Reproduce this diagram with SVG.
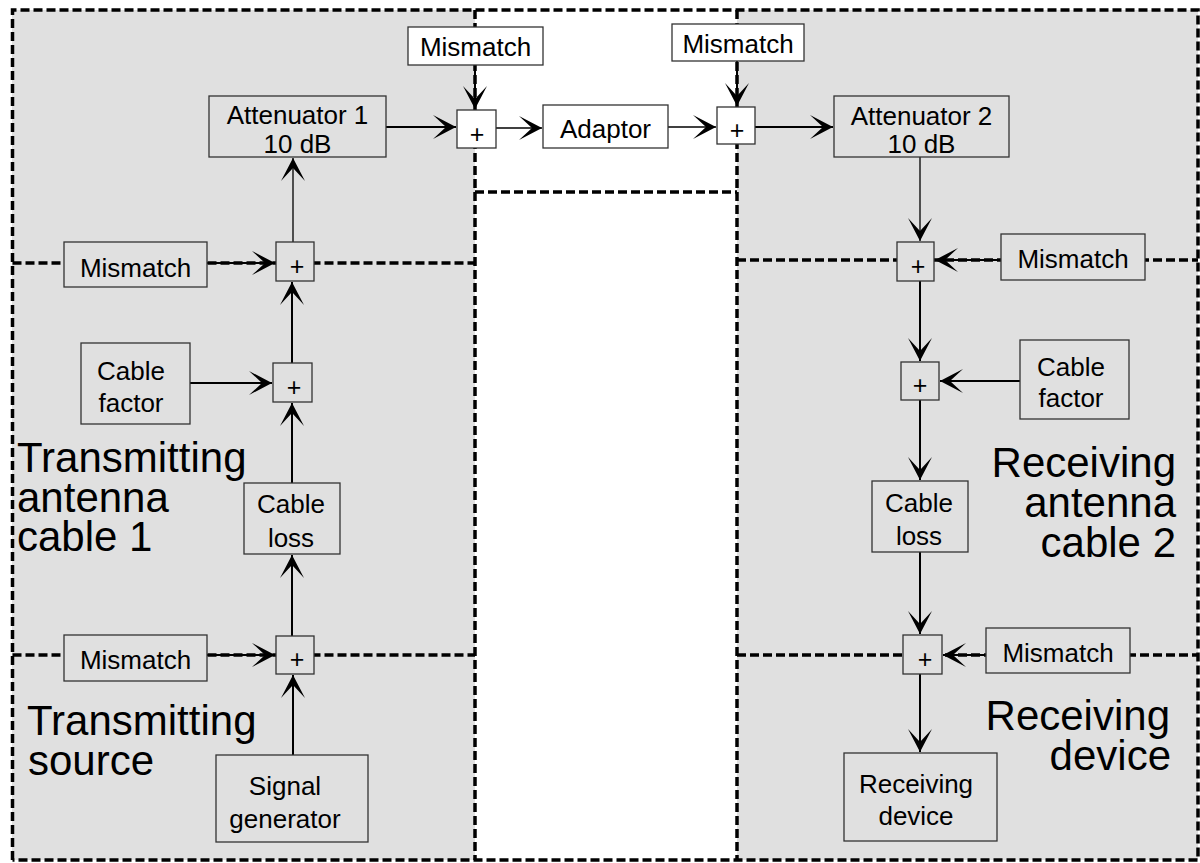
<svg xmlns="http://www.w3.org/2000/svg" width="1200" height="863" viewBox="0 0 1200 863">
<style>
text{font-family:"Liberation Sans",Arial,sans-serif;fill:#000}
.t{font-size:26px;text-anchor:middle}
.big{font-size:42px}
.end{text-anchor:end}
.plus{font-size:25px;text-anchor:middle}
.box{stroke:#333;stroke-width:1.3;fill:#e0e0e0}
.wbox{stroke:#333;stroke-width:1.3;fill:#fff}
.dash{stroke:#000;stroke-width:3.5;stroke-dasharray:9 4;fill:none}
.c{stroke:#000;stroke-width:2;fill:none;marker-end:url(#ah)}
.cthin{stroke:#000;stroke-width:1.3;fill:none;marker-end:url(#ah)}
</style>
<defs>
<marker id="ah" viewBox="-24 -13 26 26" refX="0" refY="0" markerWidth="26" markerHeight="26" markerUnits="userSpaceOnUse" orient="auto">
<path d="M0,0 L-23,-12 L-10,0 L-23,12 Z" fill="#000"/>
</marker>
</defs>
<rect width="1200" height="863" fill="#fff"/>
<g id="regions">
<rect x="12" y="10" width="463" height="850" fill="#e0e0e0"/>
<rect x="737" y="10" width="461" height="850" fill="#e0e0e0"/>
<path class="dash" d="M12.5,860 V10 H1198 V860 H12.5"/>
<path class="dash" d="M475,10 V860 M737,10 V860 M475,192 H737"/>
<path class="dash" d="M12.5,263 H475 M12.5,655 H475 M737,260 H1198 M737,655 H1198"/>
</g>
<g id="connectors">
<path class="c" d="M293,755 V675"/>
<path class="c" d="M207,655 H275"/>
<path class="c" d="M292,636 V555"/>
<path class="c" d="M292,483 V403"/>
<path class="c" d="M190,383 H272"/>
<path class="c" d="M292,363 V282"/>
<path class="c" d="M207,263 H275"/>
<path class="cthin" d="M293,242 V158"/>
<path class="c" d="M386,127 H456"/>
<path class="c" d="M475,65 V109"/>
<path class="cthin" d="M496,128 H542"/>
<path class="cthin" d="M668,127 H716"/>
<path class="c" d="M737,61 V106"/>
<path class="c" d="M755,127 H833"/>
<path class="cthin" d="M920,157 V241"/>
<path class="c" d="M1001,260 H935"/>
<path class="c" d="M920,281 V361"/>
<path class="c" d="M1020,381 H940"/>
<path class="c" d="M920,400 V480"/>
<path class="c" d="M920,552 V634"/>
<path class="c" d="M986,655 H943"/>
<path class="c" d="M920,674 V752"/>
</g>
<g id="label-tx-cable">
<text class="big" x="17" y="472">Transmitting</text>
<text class="big" x="17" y="512">antenna</text>
<text class="big" x="17" y="551">cable 1</text>
</g>
<g id="label-tx-source">
<text class="big" x="27" y="735">Transmitting</text>
<text class="big" x="28" y="775">source</text>
</g>
<g id="label-rx-cable">
<text class="big end" x="1176" y="477">Receiving</text>
<text class="big end" x="1176" y="517">antenna</text>
<text class="big end" x="1176" y="557">cable 2</text>
</g>
<g id="label-rx-device">
<text class="big end" x="1170" y="730">Receiving</text>
<text class="big end" x="1171" y="770">device</text>
</g>
<g id="signal-generator">
<rect class="box" x="216" y="755" width="152" height="87"/>
<text class="t" x="285" y="795">Signal</text>
<text class="t" x="285" y="828">generator</text>
</g>
<g id="mismatch-tx-low">
<rect class="box" x="64" y="635" width="143" height="46"/>
<text class="t" x="135.5" y="669">Mismatch</text>
</g>
<g id="sum-tx-low">
<rect class="box" x="276" y="636" width="38" height="38"/>
<text class="plus" x="297" y="668">+</text>
</g>
<g id="cable-loss-1">
<rect class="box" x="244" y="483" width="96" height="71"/>
<text class="t" x="291" y="513">Cable</text>
<text class="t" x="291" y="547">loss</text>
</g>
<g id="cable-factor-1">
<rect class="box" x="81" y="343" width="109" height="81"/>
<text class="t" x="131" y="380">Cable</text>
<text class="t" x="131" y="412">factor</text>
</g>
<g id="sum-tx-factor">
<rect class="box" x="273" y="363" width="39" height="39"/>
<text class="plus" x="294" y="396">+</text>
</g>
<g id="mismatch-tx-up">
<rect class="box" x="64" y="242" width="143" height="45"/>
<text class="t" x="135.5" y="277">Mismatch</text>
</g>
<g id="sum-tx-up">
<rect class="box" x="276" y="242" width="38" height="39"/>
<text class="plus" x="297" y="275">+</text>
</g>
<g id="attenuator-1">
<rect class="box" x="209" y="96" width="177" height="61"/>
<text class="t" x="297.5" y="124">Attenuator 1</text>
<text class="t" x="297.5" y="153">10 dB</text>
</g>
<g id="mismatch-top-1">
<rect class="wbox" x="408" y="27" width="135" height="38"/>
<text class="t" x="475.5" y="56">Mismatch</text>
</g>
<g id="sum-top-1">
<rect class="wbox" x="457" y="110" width="39" height="38"/>
<text class="plus" x="477" y="143">+</text>
</g>
<g id="adaptor">
<rect class="wbox" x="543" y="105" width="125" height="43"/>
<text class="t" x="605.5" y="138">Adaptor</text>
</g>
<g id="mismatch-top-2">
<rect class="wbox" x="672" y="24" width="132" height="37"/>
<text class="t" x="738" y="53">Mismatch</text>
</g>
<g id="sum-top-2">
<rect class="wbox" x="717" y="107" width="38" height="37"/>
<text class="plus" x="737" y="139">+</text>
</g>
<g id="attenuator-2">
<rect class="box" x="834" y="96" width="175" height="61"/>
<text class="t" x="921.5" y="125">Attenuator 2</text>
<text class="t" x="921.5" y="153">10 dB</text>
</g>
<g id="sum-rx-up">
<rect class="box" x="897" y="242" width="37" height="39"/>
<text class="plus" x="918" y="275">+</text>
</g>
<g id="mismatch-rx-up">
<rect class="box" x="1001" y="234" width="144" height="46"/>
<text class="t" x="1073" y="268">Mismatch</text>
</g>
<g id="sum-rx-factor">
<rect class="box" x="901" y="362" width="38" height="38"/>
<text class="plus" x="920" y="394">+</text>
</g>
<g id="cable-factor-2">
<rect class="box" x="1020" y="340" width="109" height="79"/>
<text class="t" x="1071" y="376">Cable</text>
<text class="t" x="1071" y="407">factor</text>
</g>
<g id="cable-loss-2">
<rect class="box" x="872" y="481" width="96" height="71"/>
<text class="t" x="919" y="512">Cable</text>
<text class="t" x="919" y="545">loss</text>
</g>
<g id="sum-rx-low">
<rect class="box" x="903" y="635" width="39" height="39"/>
<text class="plus" x="925" y="668">+</text>
</g>
<g id="mismatch-rx-low">
<rect class="box" x="986" y="628" width="144" height="45"/>
<text class="t" x="1058" y="662">Mismatch</text>
</g>
<g id="receiving-device">
<rect class="box" x="844" y="753" width="153" height="88"/>
<text class="t" x="916" y="793">Receiving</text>
<text class="t" x="916" y="825">device</text>
</g>
</svg>
